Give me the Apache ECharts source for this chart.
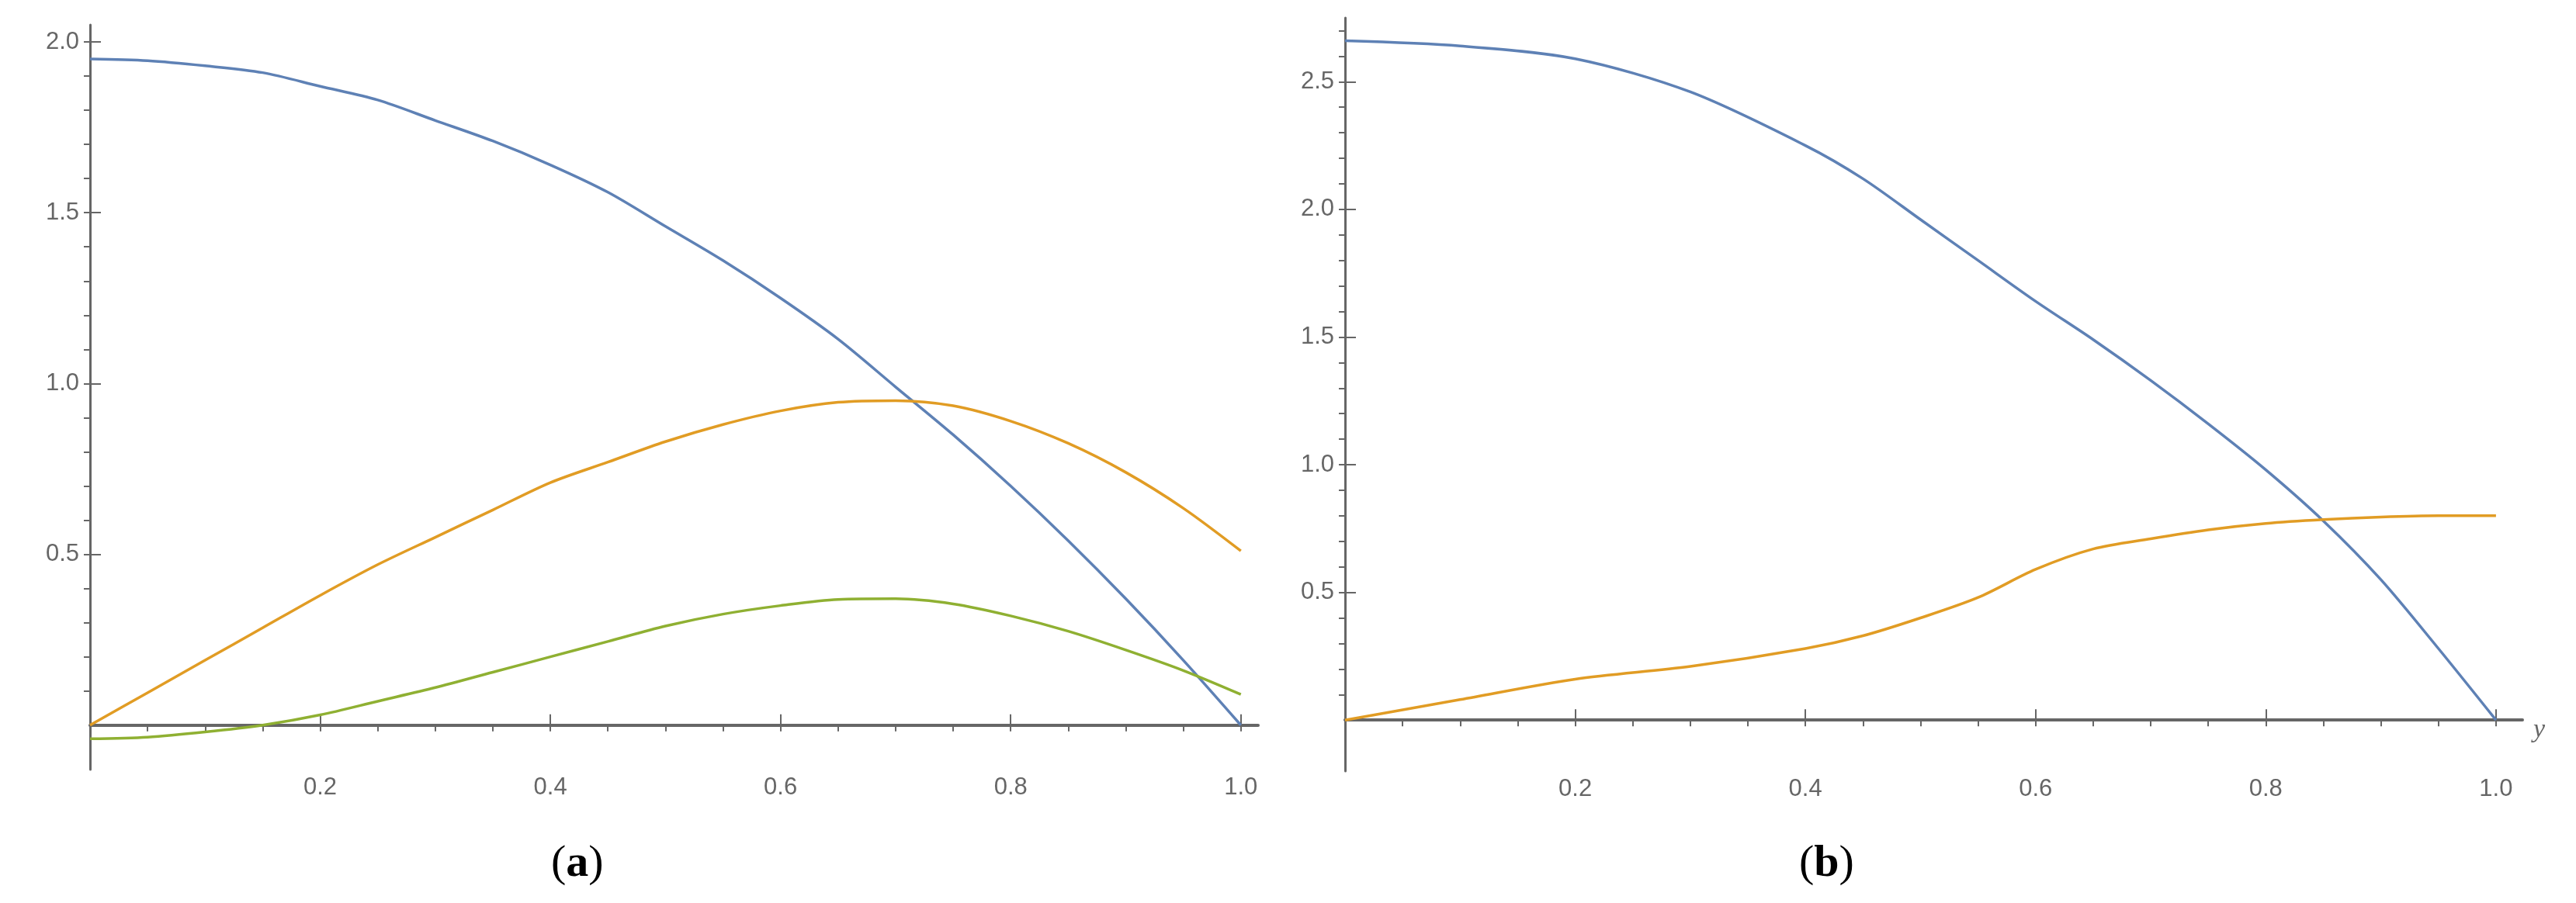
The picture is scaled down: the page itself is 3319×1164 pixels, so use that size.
<!DOCTYPE html>
<html>
<head>
<meta charset="utf-8">
<script src="https://cdn.jsdelivr.net/npm/echarts@6/dist/echarts.min.js"></script>
<style>html,body{margin:0;background:#fff}#main{width:3319px;height:1164px}</style>
</head>
<body>
<div id="main"></div>
<script>
// panel (a): x samples and three curves
const xA = [0, 0.05, 0.1, 0.15, 0.2, 0.25, 0.3, 0.35, 0.4, 0.45, 0.5, 0.55, 0.6, 0.65, 0.7, 0.75, 0.8, 0.85, 0.9, 0.95, 1.0];
const blueA = [1.95, 1.945, 1.93, 1.91, 1.87, 1.83, 1.77, 1.71, 1.64, 1.56, 1.46, 1.36, 1.25, 1.13, 0.99, 0.85, 0.70, 0.54, 0.37, 0.19, 0.0];
const orangeA = [0.0, 0.095, 0.19, 0.285, 0.38, 0.47, 0.55, 0.63, 0.71, 0.77, 0.83, 0.88, 0.92, 0.945, 0.95, 0.935, 0.89, 0.825, 0.74, 0.635, 0.51];
const greenA = [-0.04, -0.035, -0.02, 0.0, 0.03, 0.07, 0.11, 0.155, 0.20, 0.245, 0.29, 0.325, 0.35, 0.368, 0.37, 0.355, 0.32, 0.275, 0.22, 0.16, 0.09];

// panel (b)
const xB = [0, 0.1, 0.2, 0.3, 0.4, 0.45, 0.5, 0.55, 0.6, 0.65, 0.7, 0.75, 0.8, 0.85, 0.9, 0.95, 1.0];
const blueB = [2.66, 2.64, 2.59, 2.46, 2.25, 2.12, 1.96, 1.80, 1.64, 1.49, 1.33, 1.16, 0.98, 0.78, 0.55, 0.28, 0.0];
const orangeB = [0.0, 0.08, 0.16, 0.21, 0.28, 0.33, 0.40, 0.48, 0.59, 0.67, 0.71, 0.745, 0.77, 0.785, 0.795, 0.80, 0.80];

const xLabels = [0.2, 0.4, 0.6, 0.8, 1.0];
const yLabelsA = [0.5, 1.0, 1.5, 2.0];
const yLabelsB = [0.5, 1.0, 1.5, 2.0, 2.5];

const axisColor = '#666';
const lblStyle = {color: '#666', fontSize: 31, fontFamily: 'Liberation Sans'};

function steps(from, to, step) {
  const out = [];
  for (let v = from; v <= to + 1e-9; v += step) out.push(Math.round(v * 1000) / 1000);
  return out;
}

function pair(xs, ys) { return xs.map((x, i) => [x, ys[i]]); }

function xAxes(grid, max, name) {
  return [{
    type: 'value', gridIndex: grid, min: 0, max: max, name: name,
    nameLocation: 'end', nameGap: 14,
    nameTextStyle: {color: '#666', fontSize: 34, fontStyle: 'italic', fontFamily: 'Liberation Serif', verticalAlign: 'top', padding: [-4, 0, 0, 0]},
    axisLine: {onZero: true, lineStyle: {color: axisColor, width: 4}},
    axisTick: {inside: true, length: 14, customValues: xLabels, lineStyle: {color: axisColor, width: 2}},
    axisLabel: {customValues: xLabels, margin: 8, formatter: v => v.toFixed(1), ...lblStyle},
    splitLine: {show: false}
  }, {
    type: 'value', gridIndex: grid, min: 0, max: max,
    axisLine: {onZero: true, show: false},
    axisTick: {inside: true, length: 8, customValues: steps(0.05, 1, 0.05), lineStyle: {color: axisColor, width: 2}},
    axisLabel: {show: false}, splitLine: {show: false}
  }];
}

function yAxes(grid, min, max, labels, minorMax) {
  return [{
    type: 'value', gridIndex: grid, min: min, max: max,
    axisLine: {onZero: true, lineStyle: {color: axisColor, width: 3}},
    axisTick: {inside: true, length: 14, customValues: labels, lineStyle: {color: axisColor, width: 2}},
    axisLabel: {customValues: labels, margin: 14, formatter: v => v.toFixed(1), ...lblStyle},
    splitLine: {show: false}
  }, {
    type: 'value', gridIndex: grid, min: min, max: max,
    axisLine: {show: false},
    axisTick: {inside: true, length: 8, customValues: steps(0.1, minorMax, 0.1), lineStyle: {color: axisColor, width: 2}},
    axisLabel: {show: false}, splitLine: {show: false}
  }];
}

function line(xi, yi, data, color) {
  return {type: 'line', xAxisIndex: xi, yAxisIndex: yi, data: data, smooth: 0.3,
    showSymbol: false, lineStyle: {color: color, width: 3.5}, z: 5};
}

const blue = '#5E81B5', orange = '#E19C24', green = '#8FB032';

const chart = echarts.init(document.getElementById('main'));
chart.setOption({
  animation: false,
  backgroundColor: '#fff',
  grid: [
    {left: 116, top: 32, width: 1505, height: 960},
    {left: 1733, top: 23, width: 1517, height: 971}
  ],
  xAxis: [...xAxes(0, 1.015, ''), ...xAxes(1, 1.023, 'y')],
  yAxis: [...yAxes(0, -0.13, 2.05, yLabelsA, 2.0), ...yAxes(1, -0.2, 2.75, yLabelsB, 2.7)],
  series: [
    line(0, 0, pair(xA, blueA), blue),
    line(0, 0, pair(xA, orangeA), orange),
    line(0, 0, pair(xA, greenA), green),
    line(2, 2, pair(xB, blueB), blue),
    line(2, 2, pair(xB, orangeB), orange)
  ],
  graphic: [
    {type: 'text', left: 710, top: 1085, style: {text: '({b|a})', rich: {b: {fontWeight: 'bold', fontSize: 58, fontFamily: 'Liberation Serif'}}, fontSize: 58, fontFamily: 'Liberation Serif', fill: '#000'}},
    {type: 'text', left: 2318, top: 1085, style: {text: '({b|b})', rich: {b: {fontWeight: 'bold', fontSize: 58, fontFamily: 'Liberation Serif'}}, fontSize: 58, fontFamily: 'Liberation Serif', fill: '#000'}}
  ]
});
</script>
</body>
</html>
